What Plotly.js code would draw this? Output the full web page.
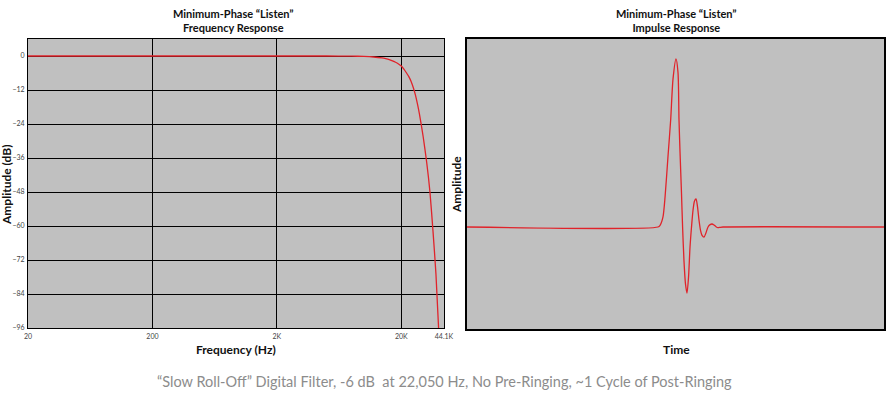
<!DOCTYPE html>
<html>
<head>
<meta charset="utf-8">
<script src="https://cdn.plot.ly/plotly-3.0.1.min.js"></script>
<style>html,body{margin:0;padding:0;background:#fff;}#chart{width:888px;height:395px;}</style>
</head>
<body>
<div id="chart"></div>
<script>
// Frequency response (Hz, dB)
const freqHz = [20, 200, 1000, 2000, 5000, 8000, 10000, 12000, 14000, 15000, 16000, 17000, 18000, 19000, 20000, 21000, 22050, 23000, 24000, 25000, 26000, 27000, 28000, 30000, 32000, 34000, 36000, 38000, 40000];
const freqDb = [0, 0, 0, 0, 0, -0.05, -0.15, -0.35, -0.7, -0.95, -1.25, -1.7, -2.2, -2.8, -3.5, -4.6, -6, -7.3, -9, -11.2, -13.8, -17, -20.5, -28.5, -37.5, -48, -62, -77, -97];

// Impulse response (arbitrary time units, normalised amplitude)
const timeT = [0, 45.8, 46.3, 47.0, 47.5, 48.2, 48.85, 49.4, 50.12, 50.6, 50.84, 51.08, 51.44, 51.7, 52.03, 52.4, 52.76, 53.12, 53.48, 53.84, 54.2, 54.56, 54.92, 55.28, 55.64, 56.0, 56.36, 56.84, 57.3, 57.8, 58.3, 58.75, 59.23, 59.71, 60.2, 60.67, 61.4, 100];
const impulseAmp = [0, 0, 0.01, 0.06, 0.18, 0.42, 0.64, 0.88, 1.0, 0.92, 0.64, 0.45, 0.2, 0.0, -0.2, -0.34, -0.393, -0.3, -0.12, 0.0, 0.1, 0.155, 0.167, 0.12, 0.04, -0.02, -0.05, -0.06, -0.035, 0.0, 0.014, 0.018, 0.012, 0.002, -0.004, -0.002, 0, 0];

// Tick labels
const freqTickVals = [20, 200, 2000, 20000, 44100];
const freqTickText = ['20', '200', '2K', '20K', '44.1K'];
const dbTickVals = [0, -12, -24, -36, -48, -60, -72, -84, -96];

const titleFont = {family: 'Lato, "Open Sans", sans-serif', size: 11, color: '#111', weight: 'bold'};
const axTitleFont = {family: 'Lato, "Open Sans", sans-serif', size: 12, color: '#111', weight: 'bold'};
const tickFont = {family: 'Lato, "Open Sans", sans-serif', size: 7, color: '#444'};

const traces = [
  {x: freqHz, y: freqDb, xaxis: 'x', yaxis: 'y', mode: 'lines', line: {color: '#e0232a', width: 1.3, shape: 'spline', smoothing: 0.6}, hoverinfo: 'skip'},
  {x: timeT, y: impulseAmp, xaxis: 'x2', yaxis: 'y2', mode: 'lines', line: {color: '#e0232a', width: 1.3, shape: 'spline', smoothing: 0.7}, hoverinfo: 'skip'}
];

const yTop = 1 - 39/395, yBot = 1 - 328/395;

const layout = {
  width: 888, height: 395,
  margin: {l: 0, r: 0, t: 0, b: 0},
  paper_bgcolor: '#ffffff',
  plot_bgcolor: '#c0c0c0',
  showlegend: false,
  xaxis: {
    domain: [28/888, 444/888], type: 'log',
    range: [Math.log10(20), Math.log10(44100)],
    tickvals: freqTickVals, ticktext: freqTickText,
    showgrid: true, gridcolor: '#000', gridwidth: 1,
    showline: true, linecolor: '#000', linewidth: 1, mirror: true,
    ticks: '', tickfont: tickFont, zeroline: false, fixedrange: true,
    ticklabelstandoff: 2
  },
  yaxis: {
    domain: [yBot, yTop], range: [-96, 6],
    tickvals: dbTickVals,
    showgrid: true, gridcolor: '#000', gridwidth: 1,
    showline: true, linecolor: '#000', linewidth: 1, mirror: true,
    ticks: '', tickfont: tickFont, zeroline: false, fixedrange: true,
    ticklabelstandoff: 1
  },
  xaxis2: {
    domain: [467/888, 884/888], range: [0, 100], anchor: 'y2',
    showgrid: false, showticklabels: false, ticks: '', zeroline: false,
    showline: true, linecolor: '#000', linewidth: 2, mirror: true, fixedrange: true
  },
  yaxis2: {
    domain: [1 - 329/395, yTop], range: [-0.607, 1.119], anchor: 'x2',
    showgrid: false, showticklabels: false, ticks: '', zeroline: false,
    showline: true, linecolor: '#000', linewidth: 2, mirror: true, fixedrange: true
  },
  annotations: [
    {text: 'Minimum-Phase “Listen”<br>Frequency Response', xref: 'paper', yref: 'paper', x: 234/888, y: 1 - 21/395, xanchor: 'center', yanchor: 'middle', showarrow: false, font: titleFont},
    {text: 'Minimum-Phase “Listen”<br>Impulse Response', xref: 'paper', yref: 'paper', x: 676/888, y: 1 - 21/395, xanchor: 'center', yanchor: 'middle', showarrow: false, font: titleFont},
    {text: 'Frequency (Hz)', xref: 'paper', yref: 'paper', x: 236/888, y: 1 - 349/395, xanchor: 'center', yanchor: 'middle', showarrow: false, font: axTitleFont},
    {text: 'Time', xref: 'paper', yref: 'paper', x: 676/888, y: 1 - 349/395, xanchor: 'center', yanchor: 'middle', showarrow: false, font: axTitleFont},
    {text: 'Amplitude (dB)', xref: 'paper', yref: 'paper', x: 6/888, y: 1 - 185/395, xanchor: 'center', yanchor: 'middle', textangle: -90, showarrow: false, font: axTitleFont},
    {text: 'Amplitude', xref: 'paper', yref: 'paper', x: 456/888, y: 1 - 185/395, xanchor: 'center', yanchor: 'middle', textangle: -90, showarrow: false, font: axTitleFont},
    {text: '“Slow Roll-Off” Digital Filter, -6 dB  at 22,050 Hz, No Pre-Ringing, ~1 Cycle of Post-Ringing', xref: 'paper', yref: 'paper', x: 444/888, y: 1 - 381/395, xanchor: 'center', yanchor: 'middle', showarrow: false, font: {family: 'Lato, "Open Sans", sans-serif', size: 14.5, color: '#8c8c8c'}}
  ]
};

Plotly.newPlot('chart', traces, layout, {displayModeBar: false, staticPlot: true});
</script>
</body>
</html>
